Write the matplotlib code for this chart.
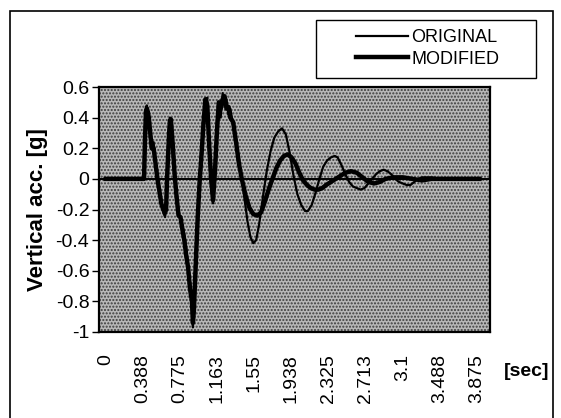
import matplotlib
matplotlib.use("Agg")
import matplotlib.pyplot as plt
from matplotlib.patches import Rectangle

# vertical acceleration [g] vs time [sec]
orig_t = [0.00, 0.40, 0.41, 0.42, 0.43, 0.44, 0.45, 0.46, 0.48, 0.50, 0.52, 0.54, 0.56, 0.58,
          0.60, 0.62, 0.63, 0.64, 0.66, 0.67, 0.68, 0.70, 0.72, 0.74, 0.76, 0.78, 0.80, 0.82,
          0.84, 0.86, 0.88, 0.90, 0.91, 0.92, 0.94, 0.96, 0.98, 1.00, 1.02, 1.04, 1.06, 1.08,
          1.10, 1.12, 1.14, 1.16, 1.18, 1.20, 1.22, 1.24, 1.26, 1.28, 1.30, 1.33, 1.36, 1.39,
          1.42, 1.45, 1.48, 1.51, 1.54, 1.57, 1.60, 1.64, 1.68, 1.72, 1.76, 1.80, 1.84, 1.88,
          1.92, 1.96, 2.00, 2.04, 2.08, 2.11, 2.15, 2.19, 2.23, 2.27, 2.31, 2.35, 2.39, 2.42,
          2.46, 2.50, 2.54, 2.58, 2.62, 2.66, 2.70, 2.74, 2.78, 2.82, 2.86, 2.90, 2.94, 2.98,
          3.02, 3.06, 3.10, 3.14, 3.18, 3.22, 3.26, 3.30, 3.40, 3.50, 3.60, 3.70, 3.80, 3.90]
orig_g = [0.00, 0.00, 0.30, 0.47, 0.48, 0.40, 0.44, 0.30, 0.22, 0.24, 0.08, -0.02, -0.06, -0.14,
          -0.22, -0.25, -0.18, 0.05, 0.32, 0.40, 0.37, 0.18, 0.00, -0.15, -0.22, -0.27, -0.30, -0.36,
          -0.45, -0.60, -0.68, -0.85, -0.97, -0.82, -0.50, -0.20, 0.02, 0.20, 0.40, 0.50, 0.53, 0.15,
          -0.05, -0.16, 0.10, 0.38, 0.48, 0.40, 0.56, 0.48, 0.52, 0.42, 0.46, 0.35, 0.26, 0.12,
          0.00, -0.14, -0.28, -0.38, -0.42, -0.40, -0.30, -0.12, 0.05, 0.18, 0.27, 0.31, 0.33, 0.29,
          0.17, 0.02, -0.10, -0.17, -0.21, -0.21, -0.17, -0.09, 0.00, 0.08, 0.12, 0.14, 0.15, 0.14,
          0.09, 0.03, -0.02, -0.05, -0.06, -0.07, -0.06, -0.03, 0.00, 0.03, 0.05, 0.06, 0.05, 0.03,
          0.00, -0.02, -0.03, -0.04, -0.04, -0.02, 0.00, 0.01, 0.01, 0.00, 0.00, 0.00, 0.00, 0.00]

mod_t = [0.00, 0.40, 0.41, 0.42, 0.43, 0.44, 0.45, 0.46, 0.48, 0.50, 0.52, 0.54, 0.56, 0.58,
         0.60, 0.62, 0.63, 0.64, 0.66, 0.67, 0.68, 0.70, 0.72, 0.74, 0.76, 0.78, 0.80, 0.82,
         0.84, 0.86, 0.88, 0.90, 0.91, 0.92, 0.94, 0.96, 0.98, 1.00, 1.02, 1.04, 1.06, 1.08,
         1.10, 1.12, 1.14, 1.16, 1.18, 1.20, 1.22, 1.24, 1.26, 1.28, 1.30, 1.33, 1.36, 1.39,
         1.42, 1.46, 1.50, 1.54, 1.58, 1.62, 1.66, 1.70, 1.74, 1.78, 1.82, 1.86, 1.90, 1.94,
         1.98, 2.02, 2.06, 2.10, 2.14, 2.18, 2.22, 2.26, 2.30, 2.35, 2.40, 2.45, 2.50, 2.56,
         2.62, 2.68, 2.74, 2.80, 2.86, 2.92, 3.00, 3.10, 3.20, 3.30, 3.40, 3.50, 3.60, 3.70,
         3.80, 3.90]
mod_g = [0.00, 0.00, 0.26, 0.44, 0.46, 0.43, 0.40, 0.33, 0.20, 0.20, 0.10, 0.00, -0.08, -0.16,
         -0.20, -0.22, -0.20, 0.00, 0.28, 0.38, 0.39, 0.22, 0.02, -0.12, -0.24, -0.25, -0.33, -0.40,
         -0.50, -0.58, -0.72, -0.80, -0.94, -0.86, -0.55, -0.25, -0.02, 0.16, 0.36, 0.52, 0.48, 0.22,
         0.00, -0.14, 0.05, 0.30, 0.50, 0.46, 0.52, 0.54, 0.46, 0.47, 0.40, 0.37, 0.24, 0.10,
         0.00, -0.11, -0.19, -0.23, -0.24, -0.22, -0.15, -0.07, 0.00, 0.07, 0.12, 0.15, 0.16, 0.14,
         0.10, 0.04, -0.01, -0.04, -0.06, -0.07, -0.07, -0.06, -0.04, -0.02, 0.00, 0.02, 0.04, 0.05,
         0.04, 0.01, -0.02, -0.03, -0.02, 0.00, 0.01, 0.01, 0.00, -0.01, 0.00, 0.00, 0.00, 0.00,
         0.00, 0.00]

x_ticks = [0, 0.3875, 0.775, 1.1625, 1.55, 1.9375, 2.325, 2.7125, 3.1, 3.4875, 3.875]
x_labels = ["0", "0.388", "0.775", "1.163", "1.55", "1.938", "2.325", "2.713", "3.1", "3.488", "3.875"]
y_ticks = [0.6, 0.4, 0.2, 0, -0.2, -0.4, -0.6, -0.8, -1]

plt.rcParams['font.family'] = ['Liberation Sans', 'DejaVu Sans']

fig = plt.figure(figsize=(5.61, 4.18), dpi=100)
# outer chart border (runs off the bottom of the scan)
fig.patches.append(Rectangle((10 / 561, -0.1), 543 / 561, 1.1 - 11 / 418, transform=fig.transFigure,
                             fill=False, edgecolor='black', lw=1.2))
# legend box
fig.patches.append(Rectangle((316 / 561, 1 - 78 / 418), 220 / 561, 58 / 418, transform=fig.transFigure,
                             fill=False, edgecolor='black', lw=1.0))

ax = fig.add_axes([99 / 561, 1 - 332 / 418, 391 / 561, 245 / 418])
ax.set_facecolor('white')
# halftone-ish grey background of the plot area
ax.add_patch(Rectangle((0, 0), 1, 1, transform=ax.transAxes, facecolor='#b8b8b8',
                       hatch='.....', edgecolor='#3c3c3c', lw=0, zorder=0))

ax.axhline(0, color='black', lw=1.4, zorder=1)
ax.plot(orig_t, orig_g, color='black', lw=1.6, label='ORIGINAL', zorder=3)
ax.plot(mod_t, mod_g, color='black', lw=3.2, label='MODIFIED', zorder=2)

ax.set_xlim(-0.07, 4.01)
ax.set_ylim(-1, 0.6)
ax.set_yticks(y_ticks)
ax.set_yticklabels([f"{v:g}" for v in y_ticks])
ax.set_xticks(x_ticks)
ax.set_xticklabels(x_labels, rotation=90)
ax.tick_params(axis='y', direction='out', length=5, width=1, labelsize=14, pad=2)
ax.tick_params(axis='x', length=0, labelsize=14, pad=16)
for s in ax.spines.values():
    s.set_linewidth(1.6)

ax.set_ylabel("Vertical acc. [g]", fontsize=16, fontweight='bold')
ax.yaxis.set_label_coords((48 - 99) / 391, 0.5)
fig.text(527 / 561, 1 - 372 / 418, "[sec]", fontsize=14, fontweight='bold', ha='center', va='center')

leg = fig.legend(loc='upper left', bbox_to_anchor=(356 / 561, 1 - 29 / 418),
                 prop={'size': 13}, frameon=False, handlelength=2.9,
                 handletextpad=0.15, borderpad=0, labelspacing=0.25, borderaxespad=0)

fig.savefig("out.png", dpi=100)
